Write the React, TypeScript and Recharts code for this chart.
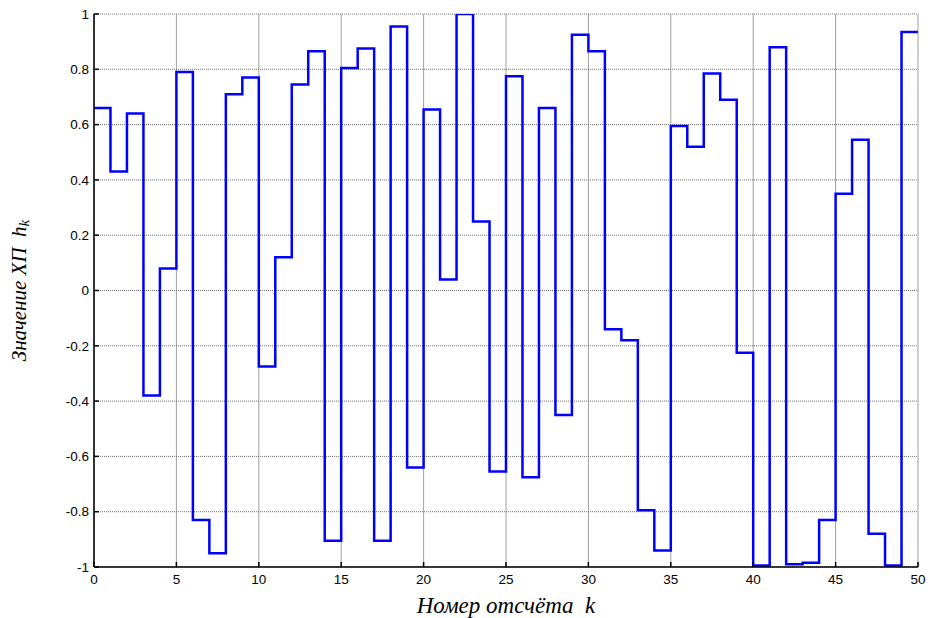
import React from "react";
import { LineChart, Line, XAxis, YAxis, CartesianGrid, Label } from "recharts";

const hValues: number[] = [
  0.66, 0.43, 0.64, -0.38, 0.08, 0.79, -0.83, -0.95, 0.71, 0.77,
  -0.275, 0.12, 0.745, 0.865, -0.905, 0.805, 0.875, -0.905, 0.955, -0.64,
  0.655, 0.04, 1.0, 0.25, -0.655, 0.775, -0.675, 0.66, -0.45, 0.925,
  0.865, -0.14, -0.18, -0.795, -0.94, 0.595, 0.52, 0.785, 0.69, -0.225,
  -0.995, 0.88, -0.99, -0.985, -0.83, 0.35, 0.545, -0.88, -0.995, 0.935,
];
const xTicks: number[] = [0, 5, 10, 15, 20, 25, 30, 35, 40, 45, 50];
const yTicks: number[] = [-1, -0.8, -0.6, -0.4, -0.2, 0, 0.2, 0.4, 0.6, 0.8, 1];

const data = [
  ...hValues.map((h, k) => ({ k, h })),
  { k: hValues.length, h: hValues[hValues.length - 1] },
];

const tickStyle = { fontFamily: "Liberation Sans, Arial, sans-serif", fontSize: 13.5, fill: "#000" };

const YLabel = (props: any) => {
  const vb = props.viewBox || {};
  const cx = 21;
  const cy = vb.y + vb.height / 2;
  return (
    <text
      x={cx}
      y={cy}
      transform={`rotate(-90, ${cx}, ${cy})`}
      textAnchor="middle"
      dominantBaseline="middle"
      style={{ fontFamily: "Liberation Serif, Times New Roman, serif", fontStyle: "italic", fontSize: 21, fill: "#000" }}
    >
      {"Значение ХП\u00A0\u00A0h"}
      <tspan dy={5} fontSize={15}>k</tspan>
    </text>
  );
};

export default function App() {
  return (
    <div style={{ position: "absolute", left: 0, top: 0, background: "#fff" }}>
      <LineChart
        width={931}
        height={618}
        data={data}
        margin={{ top: 14, right: 13, bottom: 0, left: 34 }}
      >
        <CartesianGrid stroke="#a0a0a0" strokeWidth={1} horizontal={false} />
        <CartesianGrid stroke="#707070" strokeDasharray="1 1" strokeWidth={1} vertical={false} />
        <XAxis
          dataKey="k"
          type="number"
          domain={[0, 50]}
          ticks={xTicks}
          interval={0}
          height={51}
          stroke="#000"
          strokeWidth={1.5}
          tickSize={-5}
          tickMargin={12}
          tick={tickStyle}
          allowDataOverflow
        >
          <Label
            value={"Номер отсчёта\u00A0\u00A0k"}
            position="insideBottom"
            offset={5}
            style={{ fontFamily: "Liberation Serif, Times New Roman, serif", fontStyle: "italic", fontSize: 23, fill: "#000" }}
          />
        </XAxis>
        <XAxis
          xAxisId="top"
          orientation="top"
          dataKey="k"
          type="number"
          domain={[0, 50]}
          ticks={xTicks}
          height={0}
          stroke="#000"
          strokeWidth={1.5}
          tickSize={-5}
          tick={false}
        />
        <YAxis
          type="number"
          domain={[-1, 1]}
          ticks={yTicks}
          interval={0}
          width={60}
          stroke="#000"
          strokeWidth={1.5}
          tickSize={-5}
          tickMargin={10}
          tick={tickStyle}
          allowDataOverflow
        >
          <Label content={<YLabel />} />
        </YAxis>
        <YAxis
          yAxisId="right"
          orientation="right"
          type="number"
          domain={[-1, 1]}
          ticks={yTicks}
          width={0}
          stroke="#000"
          strokeWidth={1.5}
          tickSize={-5}
          tick={false}
        />
        <Line
          type="stepAfter"
          dataKey="h"
          stroke="#0000ff"
          strokeWidth={2.5}
          dot={false}
          isAnimationActive={false}
        />
      </LineChart>
    </div>
  );
}
